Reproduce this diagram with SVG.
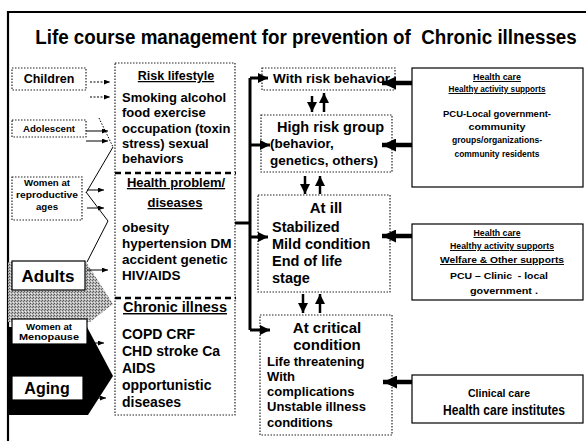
<svg xmlns="http://www.w3.org/2000/svg" width="586" height="441" viewBox="0 0 586 441">
<defs>
<marker id="ahS" markerUnits="userSpaceOnUse" markerWidth="6" markerHeight="5" refX="6" refY="2.5" orient="auto"><path d="M0,0 L6,2.5 L0,5 z" fill="#000"/></marker>
<marker id="ahM" markerUnits="userSpaceOnUse" markerWidth="10" markerHeight="10" refX="10" refY="5" orient="auto"><path d="M0,0 L10,5 L0,10 z" fill="#000"/></marker>
<marker id="ahL" markerUnits="userSpaceOnUse" markerWidth="14" markerHeight="13" refX="14" refY="6.5" orient="auto"><path d="M0,0 L14,6.5 L0,13 z" fill="#000"/></marker>
<pattern id="dither" patternUnits="userSpaceOnUse" width="3" height="3">
<rect width="3" height="3" fill="#b8b8b8"/>
<rect x="0" y="0" width="1" height="1" fill="#555"/>
<rect x="2" y="1" width="1" height="1" fill="#666"/>
<rect x="1" y="2" width="1" height="1" fill="#eee"/>
</pattern>
</defs>
<style>
text{font-family:"Liberation Sans",Arial,sans-serif;font-weight:bold;fill:#000}
.dot{fill:#fff;stroke:#222;stroke-width:1.2;stroke-dasharray:1.5 1.5}
.solid{fill:#fff;stroke:#000;stroke-width:1.2}
.thin{stroke:#000;stroke-width:1;fill:none}
.thick{stroke:#000;stroke-width:3;fill:none}
.ud{stroke:#000;stroke-width:2.5;fill:none;marker-end:url(#ahM)}
.heavy{stroke:#000;stroke-width:4.5;fill:none;marker-end:url(#ahL)}
.sa{stroke:#000;stroke-width:1;fill:none;marker-end:url(#ahS)}
.u{text-decoration:underline}
.sep{stroke:#000;stroke-width:2.5;stroke-dasharray:6 4}
</style>
<rect width="586" height="441" fill="#fff"/>
<path d="M8,441 V12 H586" stroke="#000" stroke-width="2.2" fill="none"/>
<text transform="translate(306,44) scale(0.895,1)" x="0" y="0" text-anchor="middle" font-size="21" xml:space="preserve">Life course management for prevention of  Chronic illnesses</text>

<g id="age-shapes">
<polygon points="8,262 86,262 113,304 90,322 8,322" fill="url(#dither)"/>
<polygon points="8,327 87,327 113,376 88,415 8,415" fill="#000"/>
</g>

<g id="children"><rect class="dot" x="12" y="68" width="74" height="22"/><text x="49" y="83" font-size="12.5" text-anchor="middle">Children</text></g>
<g id="adolescent"><rect class="dot" x="12" y="120" width="74" height="17"/><text x="49" y="132" font-size="9" text-anchor="middle" textLength="52" lengthAdjust="spacingAndGlyphs">Adolescent</text></g>
<g id="women-repro"><rect class="dot" x="12" y="177" width="70" height="43"/>
<text x="47" y="186" font-size="9" text-anchor="middle" textLength="46" lengthAdjust="spacingAndGlyphs">Women at</text>
<text x="47" y="198" font-size="9" text-anchor="middle" textLength="62" lengthAdjust="spacingAndGlyphs">reproductive</text>
<text x="47" y="210" font-size="9" text-anchor="middle" textLength="22" lengthAdjust="spacingAndGlyphs">ages</text></g>
<g id="adults"><rect class="solid" x="12" y="261" width="73" height="29"/><text x="48" y="282" font-size="17" text-anchor="middle">Adults</text></g>
<g id="women-meno"><rect class="solid" x="12" y="319" width="75" height="25"/>
<text x="49" y="330" font-size="8.5" text-anchor="middle" textLength="46" lengthAdjust="spacingAndGlyphs">Women at</text>
<text x="49" y="340" font-size="8.5" text-anchor="middle" textLength="60" lengthAdjust="spacingAndGlyphs">Menopause</text></g>
<g id="aging"><rect class="solid" x="12" y="376" width="71" height="24"/><text x="47" y="394" font-size="16" text-anchor="middle">Aging</text></g>

<g id="conditions">
<rect class="dot" x="115" y="63" width="120" height="352"/>
<line class="sep" x1="115" y1="173" x2="236" y2="173"/>
<line class="sep" x1="115" y1="298" x2="236" y2="298"/>
<text x="176" y="80" font-size="12.5" text-anchor="middle" class="u">Risk lifestyle</text>
<text x="122" y="102" font-size="13">Smoking alcohol</text>
<text x="122" y="117" font-size="13">food exercise</text>
<text x="122" y="133" font-size="13">occupation (toxin</text>
<text x="122" y="148" font-size="13">stress) sexual</text>
<text x="122" y="163" font-size="13">behaviors</text>
<text x="176" y="187" font-size="13" text-anchor="middle" class="u">Health problem/</text>
<text x="175" y="207" font-size="13" text-anchor="middle" class="u">diseases</text>
<text x="122" y="232" font-size="13.5">obesity</text>
<text x="122" y="248" font-size="13.5">hypertension DM</text>
<text x="122" y="264" font-size="13.5">accident genetic</text>
<text x="122" y="280" font-size="13.5">HIV/AIDS</text>
<text x="123" y="312" font-size="14.5" class="u">Chronic illness</text>
<text x="122" y="339" font-size="14">COPD CRF</text>
<text x="122" y="356" font-size="14">CHD stroke Ca</text>
<text x="122" y="373" font-size="14">AIDS</text>
<text x="122" y="390" font-size="14">opportunistic</text>
<text x="122" y="407" font-size="14">diseases</text>
</g>

<g id="with-risk"><rect class="dot" x="262" y="68" width="133" height="22"/><text x="273" y="83" font-size="13.5" textLength="117" lengthAdjust="spacingAndGlyphs">With risk behavior</text></g>
<g id="high-risk"><rect class="dot" x="261" y="115" width="131" height="57"/>
<text x="277" y="132" font-size="14.5">High risk group</text>
<text x="270" y="148" font-size="13.5">(behavior,</text>
<text x="270" y="165" font-size="13.5">genetics, others)</text></g>
<g id="at-ill"><rect class="dot" x="258" y="195" width="132" height="97"/>
<text x="326" y="213" font-size="15" text-anchor="middle">At ill</text>
<text x="272" y="232" font-size="14.5">Stabilized</text>
<text x="272" y="249" font-size="14.5">Mild condition</text>
<text x="272" y="266" font-size="14.5">End of life</text>
<text x="272" y="283" font-size="14.5">stage</text></g>
<g id="at-critical"><rect class="dot" x="260" y="315" width="132" height="120"/>
<text x="327" y="333" font-size="15" text-anchor="middle">At critical</text>
<text x="327" y="350" font-size="15" text-anchor="middle">condition</text>
<text x="267" y="366" font-size="13">Life threatening</text>
<text x="267" y="381" font-size="13">With</text>
<text x="267" y="396" font-size="13">complications</text>
<text x="267" y="411" font-size="13">Unstable illness</text>
<text x="267" y="427" font-size="13">conditions</text></g>

<g id="support-community"><rect class="solid" x="412" y="68" width="171" height="119"/>
<text x="497" y="80" font-size="9.5" text-anchor="middle" class="u" textLength="48" lengthAdjust="spacingAndGlyphs">Health care</text>
<text x="497" y="92" font-size="9.5" text-anchor="middle" class="u" textLength="97" lengthAdjust="spacingAndGlyphs">Healthy activity supports</text>
<text x="497" y="117" font-size="9.5" text-anchor="middle" textLength="108" lengthAdjust="spacingAndGlyphs">PCU-Local government-</text>
<text x="497" y="130" font-size="9.5" text-anchor="middle" textLength="57" lengthAdjust="spacingAndGlyphs">community</text>
<text x="497" y="143" font-size="9.5" text-anchor="middle" textLength="90" lengthAdjust="spacingAndGlyphs">groups/organizations-</text>
<text x="497" y="157" font-size="9.5" text-anchor="middle" textLength="85" lengthAdjust="spacingAndGlyphs">community residents</text></g>
<g id="support-welfare"><rect class="solid" x="412" y="224" width="171" height="76"/>
<text x="497" y="236" font-size="9.5" text-anchor="middle" class="u" textLength="47" lengthAdjust="spacingAndGlyphs">Health care</text>
<text x="502" y="249" font-size="9.5" text-anchor="middle" class="u" textLength="104" lengthAdjust="spacingAndGlyphs">Healthy activity supports</text>
<text x="502" y="263" font-size="9.5" text-anchor="middle" class="u" textLength="124" lengthAdjust="spacingAndGlyphs">Welfare &amp; Other supports</text>
<text x="499" y="279" font-size="9.5" text-anchor="middle" textLength="98" lengthAdjust="spacingAndGlyphs" xml:space="preserve">PCU – Clinic  - local</text>
<text x="504" y="294" font-size="9.5" text-anchor="middle" textLength="68" lengthAdjust="spacingAndGlyphs">government .</text></g>
<g id="clinical"><rect class="solid" x="412" y="375" width="171" height="48"/>
<text x="499" y="397" font-size="11" text-anchor="middle" textLength="62" lengthAdjust="spacingAndGlyphs">Clinical care</text>
<text x="504" y="415" font-size="14" text-anchor="middle" textLength="122" lengthAdjust="spacingAndGlyphs">Health care institutes</text></g>

<g id="connectors">
<path class="sa" d="M90,82 H110" stroke-dasharray="2 1.5"/>
<path class="sa" d="M90,97 H110" stroke-dasharray="2 1.5"/>
<path class="sa" d="M86,131 H108"/>
<path class="sa" d="M86,141 H108"/>
<path class="sa" d="M87,190 H104"/>
<path class="sa" d="M87,208 H104"/>
<path class="sa" d="M87,270 H108"/>
<path class="sa" d="M88,343 H104"/>
<path class="sa" d="M88,360 H104"/>
<path class="sa" d="M90,398 H106"/>
<path class="thin" d="M99,118 L113,147" stroke-dasharray="1.5 1.5"/>
<path class="thin" d="M113,147 L86,193"/>
<path class="thin" d="M86,192 L108,221 L87,262"/>
<path class="thick" d="M235,223 H250"/>
<path class="thick" d="M250,78 V330"/>
<path class="thick" d="M250,78 H268" marker-end="url(#ahM)"/>
<path class="thick" d="M250,145 H270" marker-end="url(#ahM)"/>
<path class="thick" d="M250,237 H268" marker-end="url(#ahM)"/>
<path class="thick" d="M250,330 H270" marker-end="url(#ahM)"/>
<path class="ud" d="M312,96 V112"/>
<path class="ud" d="M324,112 V93"/>
<path class="ud" d="M305,176 V194"/>
<path class="ud" d="M320,194 V176"/>
<path class="ud" d="M303,294 V313"/>
<path class="ud" d="M320,313 V294"/>
<path class="heavy" d="M412,83 H382"/>
<path class="heavy" d="M412,145 H382"/>
<path class="heavy" d="M412,236 H382"/>
<path class="heavy" d="M412,382 H383"/>
</g>
</svg>
